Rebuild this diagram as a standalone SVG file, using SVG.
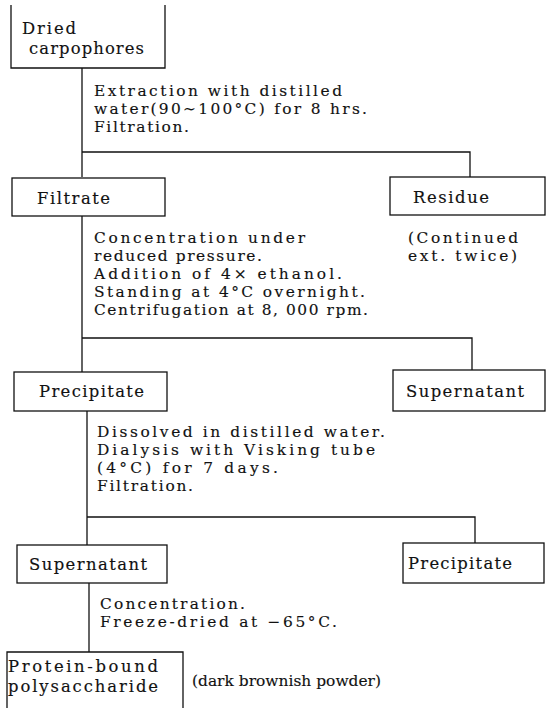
<svg xmlns="http://www.w3.org/2000/svg" width="550" height="708" viewBox="0 0 550 708">
<style>
text{font-family:"DejaVu Serif","Liberation Serif",serif;font-size:15.4px;fill:#111;stroke:#111;stroke-width:0.15}
text.b{font-size:16.4px}
.box{fill:none;stroke:#111;stroke-width:1.3}
.ln{fill:none;stroke:#111;stroke-width:1.3}
</style>
<rect width="550" height="708" fill="#fff"/>
<g id="connectors" class="ln">
<path d="M82,68V177M82,152H470V177"/>
<path d="M82,216V372M82,338H472V370"/>
<path d="M87,411V545M87,517H475V543"/>
<path d="M89,583V652"/>
</g>
<g id="steps">
<text x="94" y="96" textLength="248" lengthAdjust="spacing">Extraction with distilled</text>
<text x="94" y="114" textLength="273" lengthAdjust="spacing">water(90∼100°C) for 8 hrs.</text>
<text x="94" y="132" textLength="95" lengthAdjust="spacing">Filtration.</text>
<text x="94" y="243" textLength="211" lengthAdjust="spacing">Concentration under</text>
<text x="94" y="261" textLength="168" lengthAdjust="spacing">reduced pressure.</text>
<text x="94" y="279" textLength="248" lengthAdjust="spacing">Addition of 4× ethanol.</text>
<text x="94" y="297" textLength="271" lengthAdjust="spacing">Standing at 4°C overnight.</text>
<text x="94" y="315" textLength="274" lengthAdjust="spacing">Centrifugation at 8, 000 rpm.</text>
<text x="97" y="437" textLength="288" lengthAdjust="spacing">Dissolved in distilled water.</text>
<text x="97" y="455" textLength="278" lengthAdjust="spacing">Dialysis with Visking tube</text>
<text x="97" y="473" textLength="181" lengthAdjust="spacing">(4°C) for 7 days.</text>
<text x="97" y="491" textLength="96" lengthAdjust="spacing">Filtration.</text>
<text x="100" y="609" textLength="145" lengthAdjust="spacing">Concentration.</text>
<text x="100" y="627" textLength="237" lengthAdjust="spacing">Freeze-dried at −65°C.</text>
</g>
<g id="dried">
<path class="box" d="M11,5V68H165V5"/>
<text class="b" x="22" y="34" textLength="54" lengthAdjust="spacing">Dried</text>
<text class="b" x="29" y="54" textLength="115" lengthAdjust="spacing">carpophores</text>
</g>
<g id="filtrate">
<rect class="box" x="12" y="178" width="153" height="38"/>
<text class="b" x="37" y="204" textLength="73" lengthAdjust="spacing">Filtrate</text>
</g>
<g id="residue">
<rect class="box" x="390" y="177" width="155" height="38"/>
<text class="b" x="413" y="203" textLength="76" lengthAdjust="spacing">Residue</text>
<text x="408" y="243" textLength="110" lengthAdjust="spacing">(Continued</text>
<text x="408" y="261" textLength="109" lengthAdjust="spacing">ext. twice)</text>
</g>
<g id="precipitate1">
<rect class="box" x="14" y="372" width="153" height="39"/>
<text class="b" x="39" y="397" textLength="105" lengthAdjust="spacing">Precipitate</text>
</g>
<g id="supernatant1">
<rect class="box" x="393" y="370" width="152" height="41"/>
<text class="b" x="406" y="397" textLength="118" lengthAdjust="spacing">Supernatant</text>
</g>
<g id="supernatant2">
<rect class="box" x="17" y="545" width="150" height="38"/>
<text class="b" x="29" y="570" textLength="118" lengthAdjust="spacing">Supernatant</text>
</g>
<g id="precipitate2">
<rect class="box" x="403" y="543" width="141" height="40"/>
<text class="b" x="408" y="569" textLength="104" lengthAdjust="spacing">Precipitate</text>
</g>
<g id="product">
<path class="box" d="M7,712V652H183V712"/>
<text class="b" x="8" y="672" textLength="150" lengthAdjust="spacing">Protein-bound</text>
<text class="b" x="8" y="692" textLength="150" lengthAdjust="spacing">polysaccharide</text>
<text x="192" y="686" textLength="189" lengthAdjust="spacing">(dark brownish powder)</text>
</g>
</svg>
